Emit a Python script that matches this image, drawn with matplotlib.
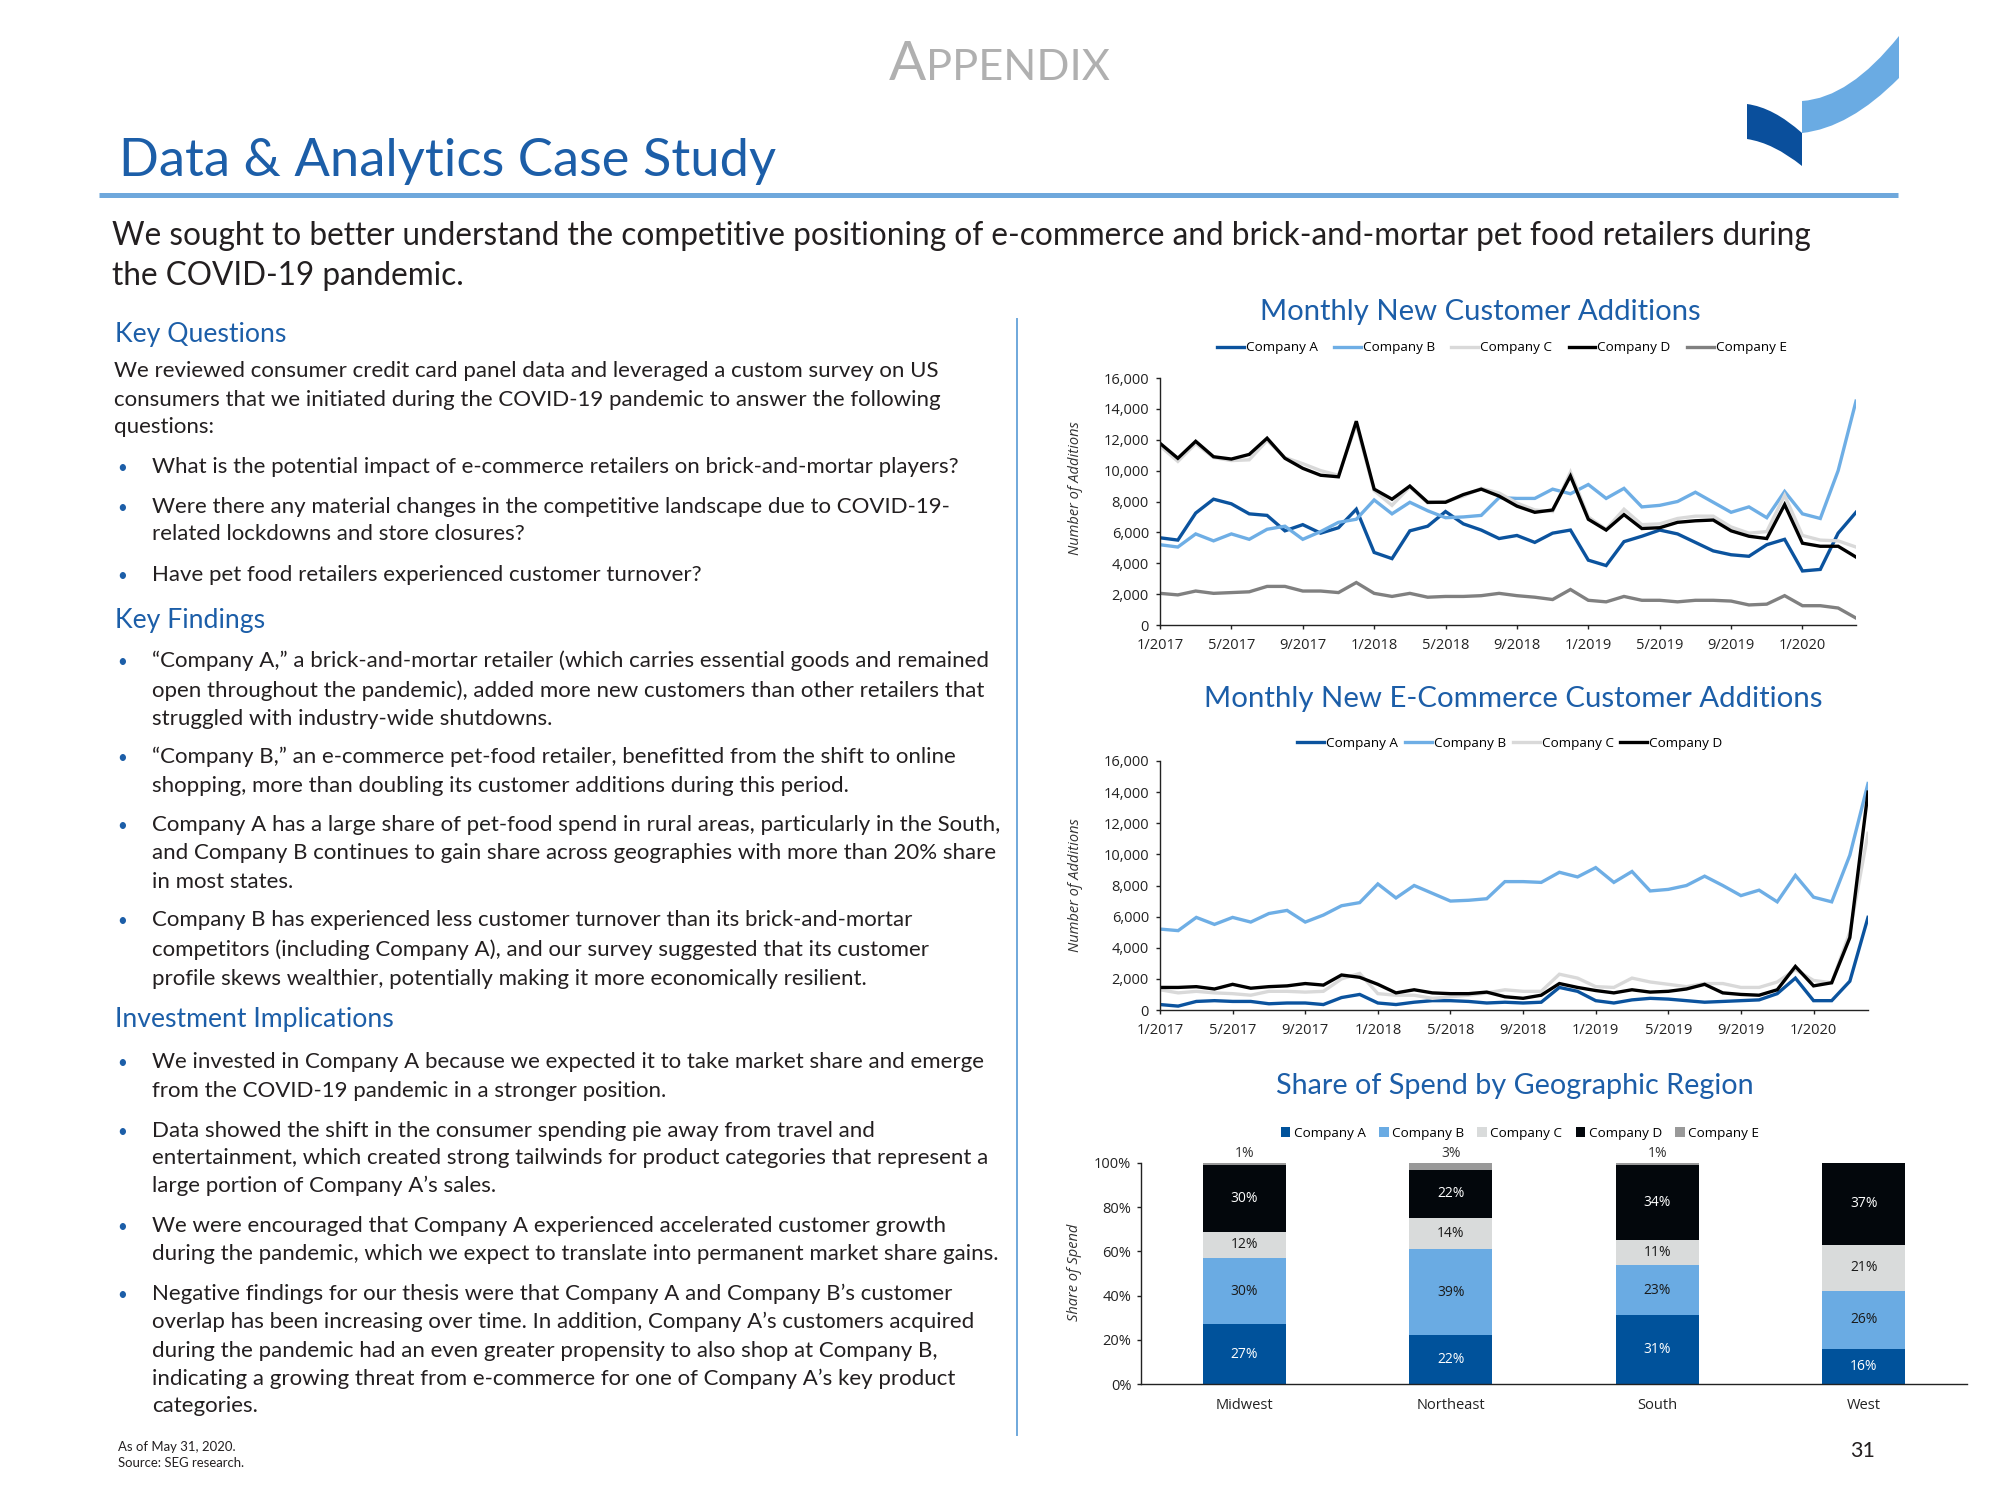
import matplotlib
matplotlib.use('Agg')
import matplotlib.pyplot as plt
from matplotlib.path import Path
from matplotlib.patches import PathPatch, Patch
from matplotlib.ticker import FuncFormatter, FixedLocator
from matplotlib import font_manager

names = {f.name for f in font_manager.fontManager.ttflist}
BODY = 'Lato' if 'Lato' in names else 'DejaVu Sans'
CHART = 'Open Sans' if 'Open Sans' in names else 'DejaVu Sans'
plt.rcParams['font.family'] = [BODY, 'DejaVu Sans']

# ---------------- data ----------------
tick_labels = ['1/2017', '5/2017', '9/2017', '1/2018', '5/2018', '9/2018',
               '1/2019', '5/2019', '9/2019', '1/2020']
companies = ['Company A', 'Company B', 'Company C', 'Company D', 'Company E']

total_a = [5650, 5500, 7250, 8150, 7850, 7200, 7100, 6100, 6500, 5950, 6300, 7500,
           4700, 4300, 6100, 6400, 7350, 6550, 6150, 5600, 5800, 5350, 5950, 6150,
           4200, 3850, 5400, 5750, 6150, 5900, 5350, 4800, 4550, 4450, 5200, 5550,
           3500, 3600, 5950, 7300]
total_b = [5200, 5050, 5900, 5450, 5900, 5550, 6200, 6400, 5550, 6050, 6650, 6850,
           8100, 7200, 7950, 7400, 6950, 7000, 7100, 8250, 8200, 8200, 8800, 8500,
           9100, 8200, 8850, 7650, 7750, 8000, 8600, 7950, 7300, 7650, 6950, 8650,
           7200, 6900, 10000, 14500]
total_c = [11600, 10600, 11750, 10850, 10650, 10700, 11950, 10850, 10450, 10000, 9700, 13000,
           8700, 7750, 8950, 7900, 8000, 8350, 8850, 8550, 7900, 7450, 7350, 9900,
           7000, 6200, 7500, 6500, 6550, 6900, 7050, 7050, 6350, 5950, 6050, 8400,
           5800, 5500, 5450, 5050]
total_d = [11770, 10800, 11900, 10900, 10750, 11050, 12100, 10800, 10150, 9700, 9600, 13200,
           8800, 8150, 9000, 7950, 7950, 8450, 8800, 8350, 7700, 7300, 7450, 9650,
           6850, 6150, 7150, 6250, 6300, 6650, 6750, 6800, 6100, 5750, 5600, 7800,
           5300, 5100, 5100, 4400]
total_e = [2050, 1950, 2200, 2050, 2100, 2150, 2500, 2500, 2200, 2200, 2100, 2750,
           2050, 1850, 2050, 1800, 1850, 1850, 1900, 2050, 1900, 1800, 1650, 2300,
           1600, 1500, 1850, 1600, 1600, 1500, 1600, 1600, 1550, 1300, 1350, 1900,
           1250, 1250, 1100, 450]

ecom_a = [350, 250, 550, 600, 550, 550, 400, 450, 450, 350, 800, 1000,
          450, 350, 500, 600, 600, 550, 450, 500, 450, 500, 1450, 1200,
          600, 450, 650, 750, 700, 600, 500, 550, 600, 650, 1050, 2050,
          600, 600, 1850, 5950]
ecom_b = [5200, 5100, 5950, 5500, 5950, 5650, 6200, 6400, 5650, 6100, 6700, 6900,
          8100, 7200, 8000, 7500, 7000, 7050, 7150, 8250, 8250, 8200, 8850, 8550,
          9150, 8200, 8900, 7650, 7750, 8000, 8600, 8000, 7350, 7700, 6950, 8650,
          7250, 6950, 9950, 14550]
ecom_c = [1300, 1100, 1200, 1100, 1050, 950, 1200, 1200, 1150, 1200, 2000, 2350,
          1050, 950, 950, 750, 850, 950, 1100, 1300, 1200, 1200, 2300, 2050,
          1500, 1450, 2050, 1800, 1650, 1500, 1700, 1700, 1450, 1450, 1800, 2600,
          1900, 1750, 5000, 11350]
ecom_d = [1450, 1450, 1500, 1350, 1650, 1400, 1500, 1550, 1700, 1600, 2250, 2100,
          1650, 1100, 1300, 1100, 1050, 1050, 1150, 850, 750, 950, 1700, 1450,
          1250, 1100, 1300, 1150, 1200, 1350, 1650, 1100, 1000, 950, 1300, 2800,
          1550, 1750, 4650, 14000]

regions = ['Midwest', 'Northeast', 'South', 'West']
share_a = [27, 22, 31, 16]
share_b = [30, 39, 23, 26]
share_c = [12, 14, 11, 21]
share_d = [30, 22, 34, 37]
share_e = [1, 3, 1, 0]

# ---------------- styles ----------------
line_colors = ['#0b539e', '#6eaee5', '#d9d9d9', '#000000', '#808080']
bar_colors = ['#00529b', '#6aabe3', '#d9dbdb', '#03070c', '#999999']
BLUE = '#1c5ea8'
RULE = '#6fa8dc'
TXT = '#231f20'
AXC = '#222222'
TICK_FS = 10.5
LEG_FS = 9.7

W, H = 2000, 1500
fig = plt.figure(figsize=(20, 15), dpi=100)
bg = fig.add_axes([0, 0, 1, 1], zorder=0)
bg.set_xlim(0, W)
bg.set_ylim(H, 0)
bg.axis('off')
R = fig.canvas.get_renderer()


def width_of(s, size, **kw):
    t = bg.text(0, 0, s, fontsize=size, **kw)
    w = t.get_window_extent(renderer=R).width
    t.remove()
    return w


def fit(s, target, **kw):
    return 30 * target / width_of(s, 30, **kw)


def ax_at(l, t, r, b):
    return fig.add_axes([l / W, 1 - b / H, (r - l) / W, (b - t) / H], zorder=2)


# ---------------- header ----------------
kwA = dict(family=[BODY, 'DejaVu Sans'], weight='normal')
wA = width_of('A', 40, **kwA)
wP = width_of('PPENDIX', 40 * 0.79, **kwA)
sc = 221 / (wA + wP)
bg.text(889, 80, 'A', fontsize=40 * sc, color='#b0b0b0', va='baseline', **kwA)
bg.text(889 + wA * sc, 80, 'PPENDIX', fontsize=40 * 0.79 * sc, color='#b0b0b0',
        va='baseline', **kwA)

ts = fit('Data & Analytics Case Study', 656)
bg.text(119, 176, 'Data & Analytics Case Study', fontsize=ts, color=BLUE, va='baseline')
bg.plot([99, 1898], [195, 195], color=RULE, lw=3.6, solid_capstyle='butt')

sub1 = ('We sought to better understand the competitive positioning of e-commerce '
        'and brick-and-mortar pet food retailers during')
ss = fit(sub1, 1694)
bg.text(112, 245, sub1, fontsize=ss, color=TXT, va='baseline')
bg.text(112, 285, 'the COVID-19 pandemic.', fontsize=ss, color=TXT, va='baseline')


# logo
def quad_shape(p0, c_top, p1, p2, c_bot, p3):
    verts = [p0, c_top, p1, p2, c_bot, p3, p0]
    codes = [Path.MOVETO, Path.CURVE3, Path.CURVE3, Path.LINETO,
             Path.CURVE3, Path.CURVE3, Path.CLOSEPOLY]
    return Path(verts, codes)


dark = quad_shape((1747, 104), (1773.5, 107.5), (1802, 133),
                  (1802, 166), (1773.5, 143), (1747, 139))
light = quad_shape((1802, 101), (1849.5, 98), (1899, 36),
                   (1899, 78), (1849.5, 128), (1802, 133))
bg.add_patch(PathPatch(dark, facecolor='#0a4f9c', edgecolor='none'))
bg.add_patch(PathPatch(light, facecolor='#6aabe3', edgecolor='none'))

# divider
bg.plot([1017, 1017], [319, 1435], color=RULE, lw=1.4)

# ---------------- left column ----------------
hs = fit('Investment Implications', 278)
bs = (fit('We reviewed consumer credit card panel data and leveraged a custom survey on US', 820)
      + fit('during the pandemic, which we expect to translate into permanent market share gains.', 841)
      + fit('What is the potential impact of e-commerce retailers on brick-and-mortar players?', 811)) / 3

headings = [('Key Questions', 342), ('Key Findings', 628), ('Investment Implications', 1027)]
for txt, y in headings:
    bg.text(115, y, txt, fontsize=hs, color=BLUE, va='baseline')

body = [
    ('We reviewed consumer credit card panel data and leveraged a custom survey on US', 377, 0),
    ('consumers that we initiated during the COVID-19 pandemic to answer the following', 406, 0),
    ('questions:', 433, 0),
    ('What is the potential impact of e-commerce retailers on brick-and-mortar players?', 473, 2),
    ('Were there any material changes in the competitive landscape due to COVID-19-', 513, 2),
    ('related lockdowns and store closures?', 540, 1),
    ('Have pet food retailers experienced customer turnover?', 581, 2),
    ('\u201cCompany A,\u201d a brick-and-mortar retailer (which carries essential goods and remained', 667, 2),
    ('open throughout the pandemic), added more new customers than other retailers that', 697, 1),
    ('struggled with industry-wide shutdowns.', 725, 1),
    ('\u201cCompany B,\u201d an e-commerce pet-food retailer, benefitted from the shift to online', 763, 2),
    ('shopping, more than doubling its customer additions during this period.', 792, 1),
    ('Company A has a large share of pet-food spend in rural areas, particularly in the South,', 831, 2),
    ('and Company B continues to gain share across geographies with more than 20% share', 859, 1),
    ('in most states.', 888, 1),
    ('Company B has experienced less customer turnover than its brick-and-mortar', 926, 2),
    ('competitors (including Company A), and our survey suggested that its customer', 956, 1),
    ('profile skews wealthier, potentially making it more economically resilient.', 985, 1),
    ('We invested in Company A because we expected it to take market share and emerge', 1068, 2),
    ('from the COVID-19 pandemic in a stronger position.', 1097, 1),
    ('Data showed the shift in the consumer spending pie away from travel and', 1137, 2),
    ('entertainment, which created strong tailwinds for product categories that represent a', 1164, 1),
    ('large portion of Company A\u2019s sales.', 1192, 1),
    ('We were encouraged that Company A experienced accelerated customer growth', 1232, 2),
    ('during the pandemic, which we expect to translate into permanent market share gains.', 1260, 1),
    ('Negative findings for our thesis were that Company A and Company B\u2019s customer', 1300, 2),
    ('overlap has been increasing over time. In addition, Company A\u2019s customers acquired', 1328, 1),
    ('during the pandemic had an even greater propensity to also shop at Company B,', 1357, 1),
    ('indicating a growing threat from e-commerce for one of Company A\u2019s key product', 1385, 1),
    ('categories.', 1412, 1),
]
for txt, y, kind in body:
    x = 114 if kind == 0 else 152
    bg.text(x, y, txt, fontsize=bs, color=TXT, va='baseline')
    if kind == 2:
        bg.text(117, y, '\u2022', fontsize=bs * 0.75, color=BLUE, va='baseline')

fs = fit('Source: SEG research.', 127)
bg.text(118, 1451, 'As of May 31, 2020.', fontsize=fs, color=TXT, va='baseline')
bg.text(118, 1467, 'Source: SEG research.', fontsize=fs, color=TXT, va='baseline')
ps = fit('31', 25)
bg.text(1875, 1457, '31', fontsize=ps, color=TXT, va='baseline', ha='right')


# ---------------- charts ----------------
def style_axes(ax):
    for s in ['top', 'right']:
        ax.spines[s].set_visible(False)
    for s in ['left', 'bottom']:
        ax.spines[s].set_color(AXC)
        ax.spines[s].set_linewidth(1.0)
    ax.tick_params(colors=AXC, labelsize=TICK_FS, length=3, width=1.0)
    for lab in ax.get_xticklabels() + ax.get_yticklabels():
        lab.set_family(CHART)
    ax.patch.set_alpha(0)


def chart_title(txt, cx, y, w):
    s = fit(txt, w)
    bg.text(cx, y, txt, fontsize=s, color=BLUE, ha='center', va='baseline')


def line_chart(ax, series, labels, colors):
    xs = list(range(len(series[0])))
    for ys, lab, c in zip(series, labels, colors):
        ax.plot(xs, ys, color=c, lw=2.4, label=lab, solid_joinstyle='miter')
    ax.set_xlim(0, len(xs) - 1)
    ax.set_ylim(0, 16000)
    ax.yaxis.set_major_locator(FixedLocator(range(0, 16001, 2000)))
    ax.yaxis.set_major_formatter(FuncFormatter(lambda v, p: f'{v:,.0f}'))
    ax.set_xticks(range(0, len(xs), 4))
    ax.set_xticklabels(tick_labels)
    style_axes(ax)
    ax.tick_params(axis='y', pad=5)
    ax.tick_params(axis='x', pad=6)
    ax.set_ylabel('Number of Additions', fontsize=10.5, style='italic',
                  family=CHART, color='#333333')


# chart 1
chart_title('Monthly New Customer Additions', 1480, 320, 439)
ax1 = ax_at(1160, 378, 1856, 625)
line_chart(ax1, [total_a, total_b, total_c, total_d, total_e], companies, line_colors)
ax1.yaxis.set_label_coords(1083, 488, transform=bg.transData)
ax1.legend(loc='center', bbox_to_anchor=(1502, 348), bbox_transform=bg.transData,
           ncol=5, frameon=False, handlelength=2.0, handletextpad=0.15,
           columnspacing=1.2, prop={'family': CHART, 'size': LEG_FS})

# chart 2
chart_title('Monthly New E-Commerce Customer Additions', 1513, 707, 617)
ax2 = ax_at(1160, 761, 1868, 1010)
line_chart(ax2, [ecom_a, ecom_b, ecom_c, ecom_d], companies[:4], line_colors[:4])
ax2.yaxis.set_label_coords(1083, 885, transform=bg.transData)
ax2.legend(loc='center', bbox_to_anchor=(1510, 743), bbox_transform=bg.transData,
           ncol=4, frameon=False, handlelength=2.0, handletextpad=0.15,
           columnspacing=0.5, prop={'family': CHART, 'size': LEG_FS})

# chart 3
chart_title('Share of Spend by Geographic Region', 1515, 1094, 477)
ax3 = ax_at(1141, 1163, 1967, 1384)
shares = [share_a, share_b, share_c, share_d, share_e]
label_colors = ['white', '#1a1a1a', '#1a1a1a', 'white', '#333333']
xpos = list(range(len(regions)))
bottoms = [0] * len(regions)
for k, (vals, col) in enumerate(zip(shares, bar_colors)):
    ax3.bar(xpos, vals, bottom=bottoms, width=0.4, color=col, label=companies[k])
    for i, v in enumerate(vals):
        if v <= 0:
            continue
        if k < 4:
            ax3.text(i, bottoms[i] + v / 2, f'{v}%', ha='center', va='center',
                     fontsize=10, family=CHART, color=label_colors[k])
        else:
            ax3.text(i, bottoms[i] + v + 4.5, f'{v}%', ha='center', va='center',
                     fontsize=10, family=CHART, color='#333333', clip_on=False)
    bottoms = [b + v for b, v in zip(bottoms, vals)]
ax3.set_xlim(-0.5, len(regions) - 0.5)
ax3.set_ylim(0, 100)
ax3.set_yticks(range(0, 101, 20))
ax3.set_yticklabels([f'{v}%' for v in range(0, 101, 20)])
ax3.set_xticks(xpos)
ax3.set_xticklabels(regions)
style_axes(ax3)
ax3.tick_params(axis='x', length=0, pad=10)
ax3.tick_params(axis='y', pad=4)
ax3.set_ylabel('Share of Spend', fontsize=10.5, style='italic', family=CHART, color='#333333')
ax3.yaxis.set_label_coords(1082, 1272, transform=bg.transData)
handles = [Patch(facecolor=c, edgecolor='none') for c in bar_colors]
ax3.legend(handles, companies, loc='center', bbox_to_anchor=(1520, 1133),
           bbox_transform=bg.transData, ncol=5, frameon=False, handlelength=0.7,
           handleheight=0.7, handletextpad=0.25, columnspacing=1.0,
           prop={'family': CHART, 'size': LEG_FS})

fig.savefig('out.png', dpi=100, facecolor='white')
